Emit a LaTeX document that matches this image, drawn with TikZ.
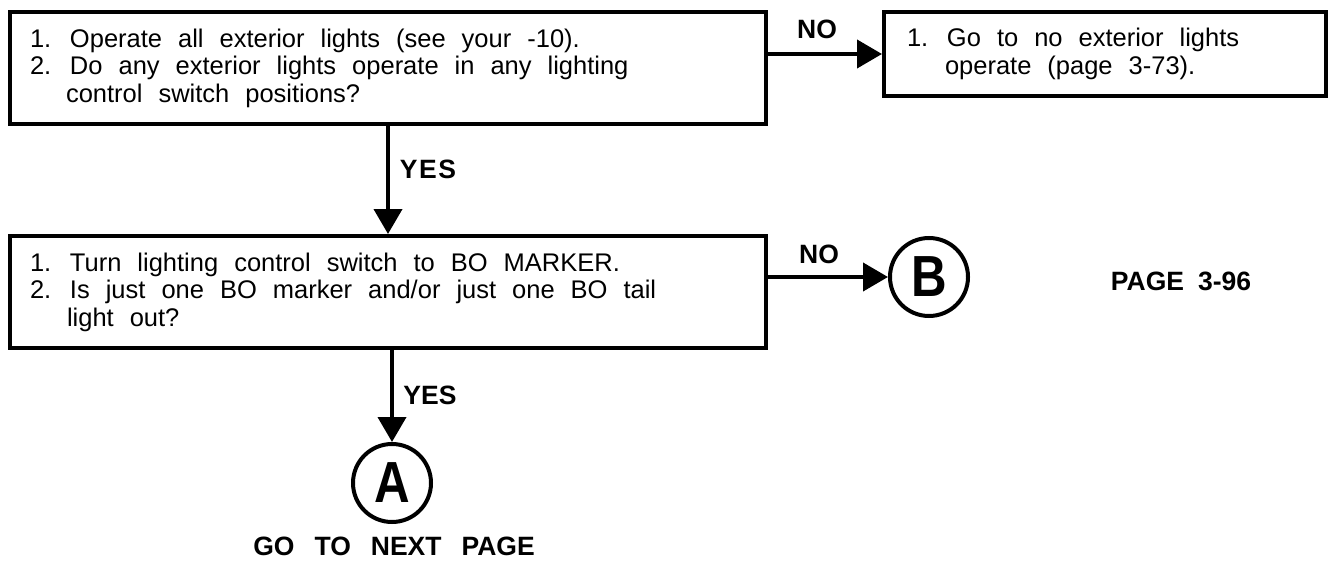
\documentclass[tikz,border=0pt]{standalone}
\usepackage{fontspec}
\setmainfont{Liberation Sans}
\usetikzlibrary{arrows.meta}
\newcommand{\num}[1]{\makebox[40pt][l]{#1}}
\newcommand{\bodyfont}{\fontsize{25.5}{27.5}\selectfont}
\newcommand{\wide}{\spaceskip=16pt plus 1pt minus 1pt\xspaceskip=16pt plus 1pt minus 1pt\relax}
\begin{document}
\begin{tikzpicture}[x=1pt,y=-1pt,
  box/.style={draw,line width=4pt,minimum height=112pt,text width=716pt,inner xsep=20pt,inner ysep=0pt,align=left,font=\bodyfont},
  sbox/.style={draw,line width=4pt,minimum height=84pt,text width=396pt,inner xsep=23pt,inner ysep=0pt,align=left,font=\bodyfont},
  circ/.style={circle,draw,line width=4pt,minimum size=78pt,inner sep=0pt,font=\fontsize{58}{58}\selectfont\bfseries},
  lbl/.style={inner sep=0pt,font=\fontsize{26.5}{26.5}\selectfont\bfseries},
  arr/.style={line width=4pt,-{Triangle[length=25pt,width=28pt]}}]
\useasboundingbox (0,0) rectangle (1332,564);
\node[box] (b1) at (388,68) {\wide\num{1.}Operate all exterior lights (see your -10).\\
\wide\num{2.}Do any exterior lights operate in any lighting\\
\wide\hspace*{36pt}control switch positions?};
\node[sbox] (n1) at (1105,54) {\wide\num{1.}Go to no exterior lights\\
\wide\hspace*{38pt}operate (page 3-73).};
\node[box] (b2) at (388,292) {\wide\num{1.}Turn lighting control switch to BO MARKER.\\
\wide\num{2.}Is just one BO marker and/or just one BO tail\\
\wide\hspace*{37pt}light out?};
\node[circ] (B) at (929,277) {\scalebox{0.85}[1]{B}};
\node[circ] (A) at (392,483) {\scalebox{0.85}[1]{A}};
\node[lbl] (no1) at (817,29) {NO};
\node[lbl] (yes1) at (428,169) {Y\hspace{1.5pt}E\hspace{1.5pt}S};
\node[lbl] (no2) at (819,254) {NO};
\node[lbl] (yes2) at (430,395) {YES};
\node[lbl] (pg) at (1181,281) {PAGE\hspace{14pt}3-96};
\node[lbl] (next) at (394,546) {GO\hspace{20pt}TO\hspace{20pt}NEXT\hspace{20pt}PAGE};
\draw[arr] (b1.east |- n1.west) -- (n1.west);
\draw[arr] (b1.south) -- (b2.north);
\draw[arr] (b2.east |- B.west) -- (B.west);
\draw[arr] (b2.south -| A.north) -- (A.north);
\end{tikzpicture}
\end{document}
